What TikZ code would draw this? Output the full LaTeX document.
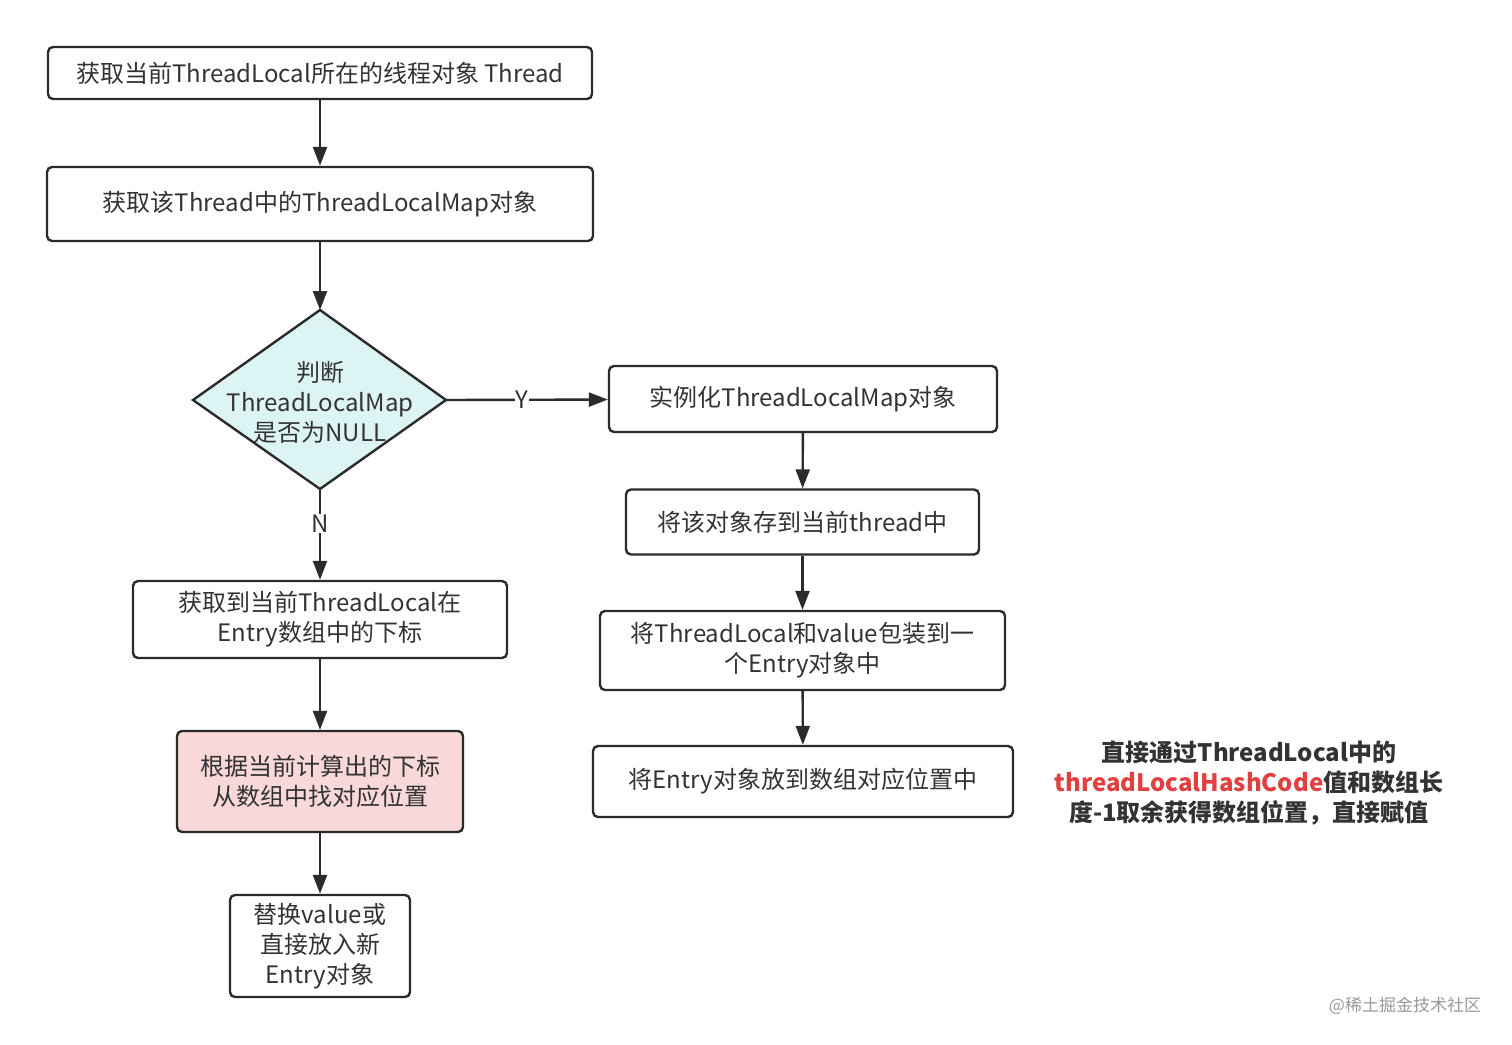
\documentclass[tikz,border=0pt]{standalone}
\usepackage{fontspec}
\setmainfont{Noto Sans CJK SC}
\usetikzlibrary{arrows.meta}
\definecolor{ln}{HTML}{2B2B2B}
\definecolor{txt}{HTML}{333333}
\definecolor{cyanfill}{HTML}{DDF4F4}
\definecolor{pinkfill}{HTML}{F8D8D8}
\definecolor{redtxt}{HTML}{E0403F}
\tikzset{
  box/.style={draw=ln, line width=2.4pt, rounded corners=5pt, fill=white, text=txt,
    align=center, inner sep=0pt, font=\fontsize{24}{30}\selectfont},
  conn/.style={draw=ln, line width=2.4pt, -{Triangle[length=19pt,width=14pt]}},
  lbl/.style={fill=white, text=txt, inner sep=1pt, font=\fontsize{24}{28}\selectfont}
}
\begin{document}
\begin{tikzpicture}[x=1pt,y=-1pt]
\useasboundingbox (0,0) rectangle (1512,1044);
\fill[white] (0,0) rectangle (1512,1044);

\node[box, minimum width=544pt, minimum height=52pt] (b1) at (320,73) {\raisebox{-2pt}{获取当前ThreadLocal所在的线程对象 Thread}};
\node[box, minimum width=546pt, minimum height=74pt] (b2) at (320,204) {\raisebox{-2pt}{获取该Thread中的ThreadLocalMap对象}};

% diamond
\coordinate (dT) at (320,310);
\coordinate (dB) at (320,489);
\coordinate (dL) at (193,400);
\coordinate (dR) at (446,400);
\draw[draw=ln, line width=2.4pt, fill=cyanfill, line join=miter] (dT) -- (dR) -- (dB) -- (dL) -- cycle;
\node[align=center, text=txt, font=\fontsize{24}{30}\selectfont] (d) at (320,402) {判断\\ThreadLocalMap\\是否为NULL};

\node[box, minimum width=388pt, minimum height=66pt] (r1) at (803,399) {\raisebox{-2pt}{实例化ThreadLocalMap对象}};
\node[box, minimum width=353pt, minimum height=65pt] (r2) at (802.5,522) {\raisebox{-2pt}{将该对象存到当前thread中}};
\node[box, minimum width=405pt, minimum height=79pt] (r3) at (802.5,650.5) {将ThreadLocal和value包装到一\\个Entry对象中};
\node[box, minimum width=420pt, minimum height=71pt] (r4) at (803,781.5) {\raisebox{-2pt}{将Entry对象放到数组对应位置中}};

\node[box, minimum width=374pt, minimum height=77pt] (l1) at (320,619.5) {获取到当前ThreadLocal在\\Entry数组中的下标};
\node[box, fill=pinkfill, minimum width=286pt, minimum height=101pt] (l2) at (320,781.5) {根据当前计算出的下标\\从数组中找对应位置};
\node[box, minimum width=180pt, minimum height=102pt] (l3) at (320,946) {替换value或\\直接放入新\\Entry对象};

\draw[conn] (b1) -- (b2);
\draw[conn] (b2) -- (dT);
\draw[conn] (dR) -- node[lbl, pos=0.47] (ylab) {Y} (r1);
\draw[conn] (dB) -- node[lbl, pos=0.38] (nlab) {N} (l1);
\draw[conn] (r1) -- (r2);
\draw[conn] (r2) -- (r3);
\draw[conn] (r3) -- (r4);
\draw[conn] (l1) -- (l2);
\draw[conn] (l2) -- (l3);

\node[align=center, text=txt, font=\bfseries\fontsize{24}{30}\selectfont] (note) at (1249,783)
  {直接通过ThreadLocal中的\\\textcolor{redtxt}{threadLocalHashCode}值和数组长\\度-1取余获得数组位置，直接赋值};

\node[text=black!40, font=\fontsize{17}{20}\selectfont] (wm) at (1405,1006) {@稀土掘金技术社区};
\end{tikzpicture}
\end{document}
